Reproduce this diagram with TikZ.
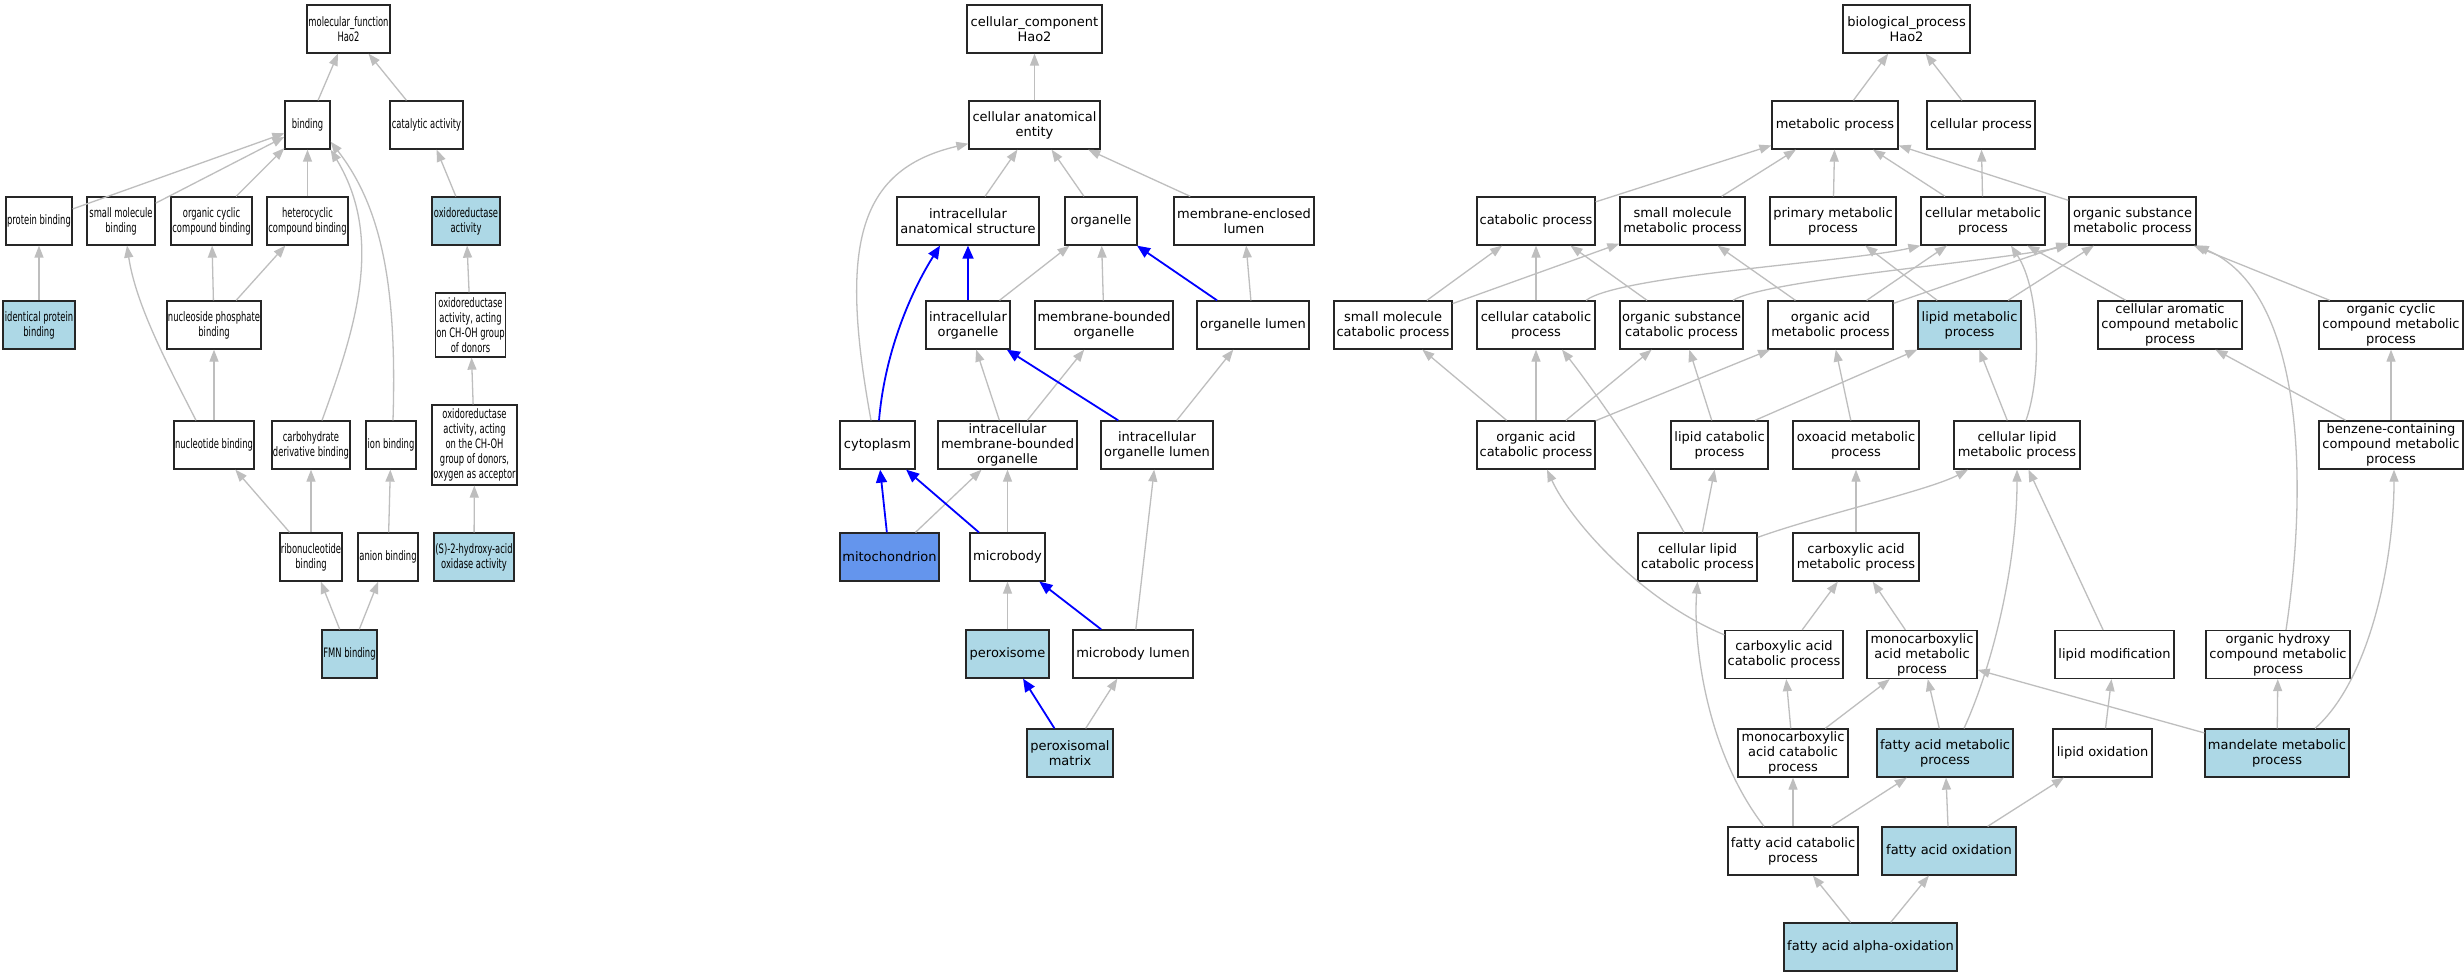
\documentclass[tikz,border=0pt]{standalone}
\usepackage{fontspec}
\setmainfont{DejaVu Sans}
\newfontfamily\mffont[FakeStretch=0.645]{DejaVu Sans}
\usetikzlibrary{arrows.meta}
\definecolor{hitblue}{HTML}{ADD8E6}
\definecolor{mitoblue}{HTML}{6495ED}
\definecolor{edgegray}{HTML}{BEBEBE}

\begin{document}
\begin{tikzpicture}[x=1pt, y=1pt,
	term/.style={rectangle, draw=black!85, line width=1.3pt, fill=white, align=center, inner xsep=1pt, inner ysep=1pt, minimum height=48pt, font=\fontsize{13}{15}\selectfont},
	mfterm/.style={term, font=\mffont\fontsize{13}{15}\selectfont},
	hit/.style={fill=hitblue},
	isa/.style={draw=edgegray, line width=1.3pt, -{Triangle[length=12pt,width=9pt]}},
	partof/.style={draw=blue, line width=1.8pt, -{Triangle[length=13pt,width=11pt]}}]
		\fill[white] (0,0) rectangle (2464,-976);
		
		% molecular function
		\node[mfterm, minimum width=83] (mf) at (348.5,-29) {molecular\_function\\Hao2};
		\node[mfterm, minimum width=45] (bind) at (307.5,-125) {binding};
		\node[mfterm, minimum width=73] (cat) at (426.5,-125) {catalytic activity};
		\node[mfterm, minimum width=66] (pbind) at (39,-221) {protein binding};
		\node[mfterm, minimum width=68] (smbind) at (121,-221) {small molecule\\binding};
		\node[mfterm, minimum width=81] (ocbind) at (211.5,-221) {organic cyclic\\compound binding};
		\node[mfterm, minimum width=81] (hcbind) at (307.5,-221) {heterocyclic\\compound binding};
		\node[mfterm, hit, minimum width=68] (oxred) at (466,-221) {oxidoreductase\\activity};
		\node[mfterm, hit, minimum width=72] (ipbind) at (39,-325) {identical protein\\binding};
		\node[mfterm, minimum width=94] (npbind) at (214,-325) {nucleoside phosphate\\binding};
		\node[mfterm, minimum width=69, minimum height=64] (oxch) at (470.5,-325) {oxidoreductase\\activity, acting\\on CH-OH group\\of donors};
		\node[mfterm, minimum width=80] (nbind) at (214,-445) {nucleotide binding};
		\node[mfterm, minimum width=78] (cdbind) at (311,-445) {carbohydrate\\derivative binding};
		\node[mfterm, minimum width=50] (ionbind) at (391,-445) {ion binding};
		\node[mfterm, minimum width=85, minimum height=80] (oxo2) at (474.5,-445) {oxidoreductase\\activity, acting\\on the CH-OH\\group of donors,\\oxygen as acceptor};
		\node[mfterm, minimum width=62] (rnbind) at (311,-557) {ribonucleotide\\binding};
		\node[mfterm, minimum width=60] (anbind) at (388,-557) {anion binding};
		\node[mfterm, hit, minimum width=80] (shao) at (474,-557) {(S)-2-hydroxy-acid\\oxidase activity};
		\node[mfterm, hit, minimum width=55] (fmn) at (349.5,-654) {FMN binding};
		
		\draw[isa] (bind) -- (mf);
		\draw[isa] (cat) -- (mf);
		\draw[isa] (pbind) -- (bind);
		\draw[isa] (smbind) -- (bind);
		\draw[isa] (ocbind) -- (bind);
		\draw[isa] (hcbind) -- (bind);
		\draw[isa] (oxred) -- (cat);
		\draw[isa] (ipbind) -- (pbind);
		\draw[isa] (npbind) -- (ocbind);
		\draw[isa] (npbind) -- (hcbind);
		\draw[isa] (oxch) -- (oxred);
		\draw[isa] (nbind) -- (npbind);
		\draw[isa] ([xshift=-18pt]nbind.north) .. controls (169,-367) and (136,-306) .. ([xshift=6pt]smbind.south);
		\draw[isa] ([xshift=11pt]cdbind.north) .. controls (356,-327) and (384,-238) .. (bind.south east);
		\draw[isa] ([xshift=2pt]ionbind.north) .. controls (397,-290) and (383,-209) .. ([yshift=8pt]bind.south east);
		\draw[isa] (oxo2) -- (oxch);
		\draw[isa] (rnbind) -- (nbind);
		\draw[isa] (rnbind) -- (cdbind);
		\draw[isa] (anbind) -- (ionbind);
		\draw[isa] (shao) -- (oxo2);
		\draw[isa] (fmn) -- (rnbind);
		\draw[isa] (fmn) -- (anbind);
		
		% cellular component
		\node[term, minimum width=135] (cc) at (1034.5,-29) {cellular\_component\\Hao2};
		\node[term, minimum width=131] (cae) at (1034.5,-125) {cellular anatomical\\entity};
		\node[term, minimum width=142] (ias) at (968,-221) {intracellular\\anatomical structure};
		\node[term, minimum width=72] (org) at (1101,-221) {organelle};
		\node[term, minimum width=140] (mel) at (1244,-221) {membrane-enclosed\\lumen};
		\node[term, minimum width=84] (io) at (968,-325) {intracellular\\organelle};
		\node[term, minimum width=138] (mbo) at (1104,-325) {membrane-bounded\\organelle};
		\node[term, minimum width=112] (ol) at (1253,-325) {organelle lumen};
		\node[term, minimum width=75] (cyto) at (877.5,-445) {cytoplasm};
		\node[term, minimum width=139] (imbo) at (1007.5,-445) {intracellular\\membrane-bounded\\organelle};
		\node[term, minimum width=112] (iol) at (1157,-445) {intracellular\\organelle lumen};
		\node[term, fill=mitoblue, minimum width=99] (mito) at (889.5,-557) {mitochondrion};
		\node[term, minimum width=75] (mb) at (1007.5,-557) {microbody};
		\node[term, hit, minimum width=83] (perox) at (1007.5,-654) {peroxisome};
		\node[term, minimum width=120] (mbl) at (1133,-654) {microbody lumen};
		\node[term, hit, minimum width=86] (pmat) at (1070,-753) {peroxisomal\\matrix};
		
		\draw[isa] (cae) -- (cc);
		\draw[isa] (ias) -- (cae);
		\draw[isa] (org) -- (cae);
		\draw[isa] (mel) -- (cae);
		\draw[isa] ([xshift=-6.5pt]cyto.north) .. controls (840,-250) and (855,-170) .. ([yshift=6pt]cae.south west);
		\draw[partof] ([xshift=1.5pt]cyto.north) .. controls (885,-350) and (912,-290) .. ([xshift=-28pt]ias.south);
		\draw[partof] (io) -- (ias);
		\draw[isa] (io) -- (org);
		\draw[isa] (mbo) -- (org);
		\draw[partof] (ol) -- (org);
		\draw[isa] (ol) -- (mel);
		\draw[isa] (imbo) -- (io);
		\draw[isa] (imbo) -- (mbo);
		\draw[partof] (iol) -- (io);
		\draw[isa] (iol) -- (ol);
		\draw[partof] (mito) -- (cyto);
		\draw[isa] (mito) -- (imbo);
		\draw[partof] (mb) -- (cyto);
		\draw[isa] (mb) -- (imbo);
		\draw[isa] (perox) -- (mb);
		\draw[partof] (mbl) -- (mb);
		\draw[isa] (mbl) -- (iol);
		\draw[partof] (pmat) -- (perox);
		\draw[isa] (pmat) -- (mbl);
		
		% biological process
		\node[term, minimum width=127] (bp) at (1906.5,-29) {biological\_process\\Hao2};
		\node[term, minimum width=126] (mp) at (1835,-125) {metabolic process};
		\node[term, minimum width=108] (cp) at (1981,-125) {cellular process};
		\node[term, minimum width=118] (catp) at (1536,-221) {catabolic process};
		\node[term, minimum width=125] (smmp) at (1682.5,-221) {small molecule\\metabolic process};
		\node[term, minimum width=126] (primp) at (1833,-221) {primary metabolic\\process};
		\node[term, minimum width=124] (cmp) at (1983,-221) {cellular metabolic\\process};
		\node[term, minimum width=127] (osmp) at (2132.5,-221) {organic substance\\metabolic process};
		\node[term, minimum width=118] (smcp) at (1393,-325) {small molecule\\catabolic process};
		\node[term, minimum width=118] (ccp) at (1536,-325) {cellular catabolic\\process};
		\node[term, minimum width=123] (oscp) at (1681.5,-325) {organic substance\\catabolic process};
		\node[term, minimum width=125] (oamp) at (1830.5,-325) {organic acid\\metabolic process};
		\node[term, hit, minimum width=103] (lmp) at (1969.5,-325) {lipid metabolic\\process};
		\node[term, minimum width=144] (camp) at (2170,-325) {cellular aromatic\\compound metabolic\\process};
		\node[term, minimum width=144] (occmp) at (2391,-325) {organic cyclic\\compound metabolic\\process};
		\node[term, minimum width=118] (oacp) at (1536,-445) {organic acid\\catabolic process};
		\node[term, minimum width=97] (lcp) at (1719.5,-445) {lipid catabolic\\process};
		\node[term, minimum width=126] (oxap) at (1856,-445) {oxoacid metabolic\\process};
		\node[term, minimum width=126] (clmp) at (2017,-445) {cellular lipid\\metabolic process};
		\node[term, minimum width=144] (bcmp) at (2391,-445) {benzene-containing\\compound metabolic\\process};
		\node[term, minimum width=119] (clcp) at (1697.5,-557) {cellular lipid\\catabolic process};
		\node[term, minimum width=126] (cxmp) at (1856,-557) {carboxylic acid\\metabolic process};
		\node[term, minimum width=118] (cxcp) at (1784,-654.5) {carboxylic acid\\catabolic process};
		\node[term, minimum width=110] (mcmp) at (1922,-654.5) {monocarboxylic\\acid metabolic\\process};
		\node[term, minimum width=119] (lmod) at (2114.5,-654.5) {lipid modification};
		\node[term, minimum width=144] (ohmp) at (2278,-654.5) {organic hydroxy\\compound metabolic\\process};
		\node[term, minimum width=110] (mccp) at (1793,-753) {monocarboxylic\\acid catabolic\\process};
		\node[term, hit, minimum width=136] (famp) at (1945,-753) {fatty acid metabolic\\process};
		\node[term, minimum width=99] (lox) at (2102.5,-753) {lipid oxidation};
		\node[term, hit, minimum width=144] (mand) at (2277,-753) {mandelate metabolic\\process};
		\node[term, minimum width=130] (facp) at (1793,-851) {fatty acid catabolic\\process};
		\node[term, hit, minimum width=134] (fao) at (1949,-851) {fatty acid oxidation};
		\node[term, hit, minimum width=173] (faao) at (1870.5,-947) {fatty acid alpha-oxidation};
		
		\draw[isa] (mp) -- (bp);
		\draw[isa] (cp) -- (bp);
		\draw[isa] (catp) -- (mp);
		\draw[isa] (smmp) -- (mp);
		\draw[isa] (primp) -- (mp);
		\draw[isa] (cmp) -- (mp);
		\draw[isa] (osmp) -- (mp);
		\draw[isa] (cmp) -- (cp);
		\draw[isa] (smcp) -- (catp);
		\draw[isa] (smcp) -- (smmp);
		\draw[isa] (ccp) -- (catp);
		\draw[isa] ([xshift=50pt]ccp.north) .. controls (1620,-275) and (1850,-262) .. (cmp.south west);
		\draw[isa] (oscp) -- (catp);
		\draw[isa] ([xshift=51.5pt]oscp.north) .. controls (1765,-280) and (1990,-262) .. (osmp.south west);
		\draw[isa] (oamp) -- (smmp);
		\draw[isa] (oamp) -- (cmp);
		\draw[isa] (oamp) -- (osmp);
		\draw[isa] (lmp) -- (primp);
		\draw[isa] (lmp) -- (osmp);
		\draw[isa] (camp) -- (cmp);
		\draw[isa] (occmp) -- (osmp);
		\draw[isa] (oacp) -- (smcp);
		\draw[isa] (oacp) -- (ccp);
		\draw[isa] (oacp) -- (oscp);
		\draw[isa] (oacp) -- (oamp);
		\draw[isa] (lcp) -- (oscp);
		\draw[isa] ([xshift=35.5pt]lcp.north) -- (lmp.south west);
		\draw[isa] (oxap) -- (oamp);
		\draw[isa] (clmp) -- (lmp);
		\draw[isa] ([xshift=9pt]clmp.north) .. controls (2042,-375) and (2040,-290) .. ([xshift=28pt]cmp.south);
		\draw[isa] (bcmp) -- (camp);
		\draw[isa] (bcmp) -- (occmp);
		\draw[isa] ([xshift=-13.5pt]clcp.north) .. controls (1650,-470) and (1590,-385) .. ([xshift=26pt]ccp.south);
		\draw[isa] (clcp) -- (lcp);
		\draw[isa] ([yshift=-5pt]clcp.north east) .. controls (1820,-515) and (1930,-490) .. ([xshift=-49pt]clmp.south);
		\draw[isa] (cxmp) -- (oxap);
		\draw[isa] ([yshift=-5pt]cxcp.north west) .. controls (1640,-600) and (1570,-520) .. ([xshift=11pt]oacp.south);
		\draw[isa] (cxcp) -- (cxmp);
		\draw[isa] (mcmp) -- (cxmp);
		\draw[isa] (lmod) -- (clmp);
		\draw[isa] ([xshift=8pt]ohmp.north) .. controls (2310,-470) and (2300,-290) .. (osmp.south east);
		\draw[isa] (mccp) -- (cxcp);
		\draw[isa] (mccp) -- (mcmp);
		\draw[isa] (famp) -- (mcmp);
		\draw[isa] ([xshift=19pt]famp.north) .. controls (1995,-660) and (2017,-560) .. (clmp.south);
		\draw[isa] (lox) -- (lmod);
		\draw[isa] (mand) -- (mcmp);
		\draw[isa] (mand) -- (ohmp);
		\draw[isa] ([xshift=38pt]mand.north) .. controls (2370,-680) and (2394,-560) .. ([xshift=3pt]bcmp.south);
		\draw[isa] ([xshift=-29pt]facp.north) .. controls (1705,-750) and (1693,-640) .. (clcp.south);
		\draw[isa] (facp) -- (mccp);
		\draw[isa] (facp) -- (famp);
		\draw[isa] (fao) -- (famp);
		\draw[isa] (fao) -- (lox);
		\draw[isa] (faao) -- (facp);
		\draw[isa] (faao) -- (fao);
	\end{tikzpicture}
\end{document}
